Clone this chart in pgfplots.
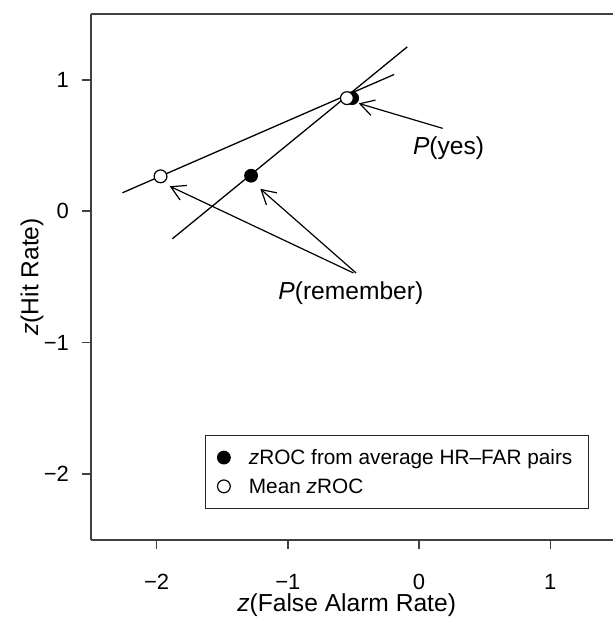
\documentclass[border=0pt]{standalone}
\usepackage{pgfplots}
\pgfplotsset{compat=1.18}
\usepackage{fontspec}
\setmainfont{Liberation Sans}
\usetikzlibrary{arrows.meta}
\begin{document}
\begin{tikzpicture}
\begin{axis}[
scale only axis,width=261pt,height=263pt,
xmin=-2.5,xmax=1.476,ymin=-2.5,ymax=1.5,
axis x line=box,axis y line=left,
axis line style={-,draw=black!75,line width=0.9pt},
every outer x axis line/.append style={-},
every outer y axis line/.append style={-},
tick pos=left,tick align=outside,major tick length=4.5pt,
tick style={black!75,line width=0.8pt},
xtick={-2,-1,0,1},xticklabels={−2,−1,0,1},
ytick={-2,-1,0,1},yticklabels={−2,−1,0,1},
tick label style={font=\fontsize{11}{13}\selectfont},
xticklabel style={yshift=-9pt},
yticklabel style={xshift=-3pt},
xlabel={\textit{z}(False Alarm Rate)},
ylabel={\textit{z}(Hit Rate)},
label style={font=\fontsize{12.3}{14}\selectfont,inner sep=0pt},
xlabel style={at={(axis description cs:0.49,-0.125)},anchor=center},
ylabel style={at={(axis description cs:-0.113,0.5)},anchor=center},
clip=false,
legend cell align=left,
legend image code/.code={\path[draw=none] (0pt,0pt) -- (13.5pt,0pt);\draw[#1] plot coordinates {(3pt,0pt)};},
legend style={at={(axis cs:-1.632,-1.704)},anchor=north west,
  draw=black!85,line width=0.6pt,inner xsep=6pt,inner ysep=7.2pt,row sep=7pt,
  font=\fontsize{10.4}{12.5}\selectfont,
  nodes={inner xsep=2pt,inner ysep=0pt,text height=7.4pt,text depth=0pt}},
]
% zROC lines
\addplot[black,line width=0.65pt,forget plot] coordinates {(-2.26,0.14) (-0.19,1.04)};
\addplot[black,line width=0.65pt,forget plot] coordinates {(-1.88,-0.21) (-0.09,1.25)};
% points
\addplot[only marks,mark=*,mark size=3.2pt,black,mark options={fill=black,line width=0.5pt}]
  coordinates {(-1.28,0.27) (-0.51,0.86)};
\addlegendentry{\textit{z}ROC from average HR–FAR pairs}
\addplot[only marks,mark=*,mark size=3.2pt,black,mark options={fill=white,line width=0.6pt}]
  coordinates {(-1.97,0.265) (-0.55,0.86)};
\addlegendentry{Mean \textit{z}ROC}
% annotations
\draw[black,line width=0.6pt,-{Straight Barb[length=7pt,width=8pt]}] (axis cs:0.18,0.63) -- (axis cs:-0.46,0.82);
\draw[black,line width=0.6pt,-{Straight Barb[length=7pt,width=8pt]}] (axis cs:-0.50,-0.47) -- (axis cs:-1.90,0.19);
\draw[black,line width=0.6pt,-{Straight Barb[length=7pt,width=8pt]}] (axis cs:-0.48,-0.47) -- (axis cs:-1.21,0.17);
\node[anchor=west,font=\fontsize{12.3}{14}\selectfont] at (axis cs:-0.10,0.48) {\textit{P}(yes)};
\node[anchor=center,font=\fontsize{12.3}{14}\selectfont] at (axis cs:-0.52,-0.62) {\textit{P}(remember)};
\end{axis}
\path ([xshift=-45.5pt,yshift=-38.5pt]current axis.south west) rectangle ([yshift=7pt]current axis.north east);
\end{tikzpicture}
\end{document}
